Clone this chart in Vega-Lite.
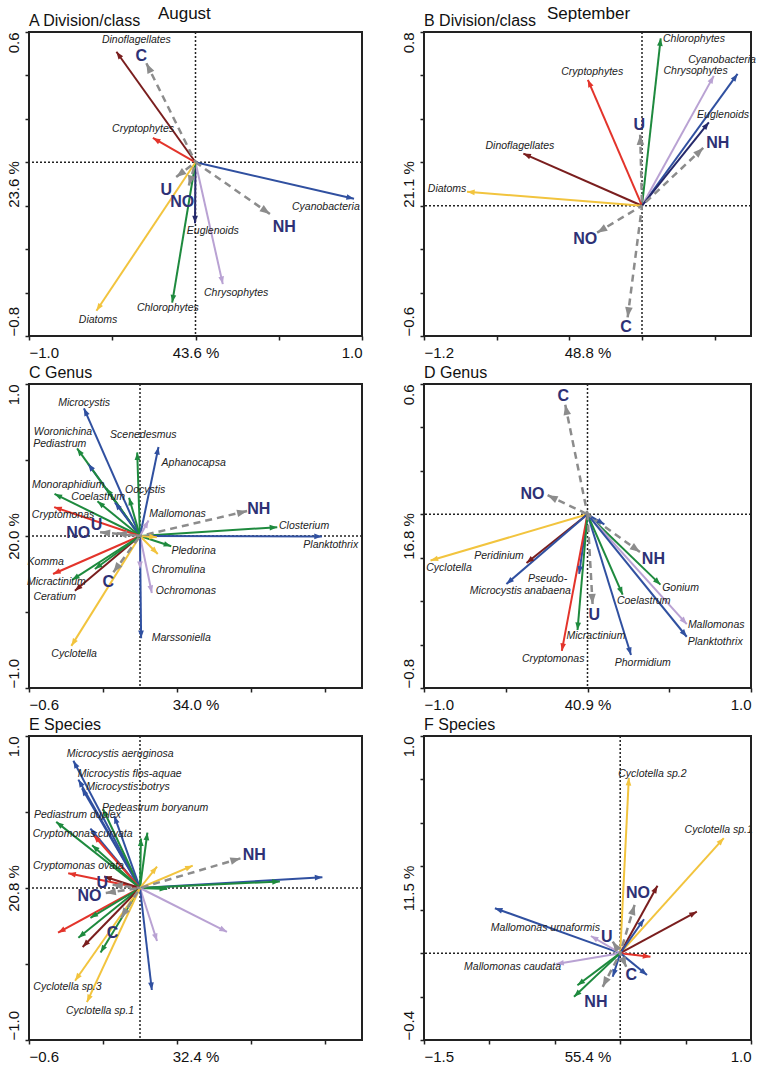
{
"$schema": "https://vega.github.io/schema/vega-lite/v6.json",
"padding": {"left": 5, "top": 5, "right": 5, "bottom": 2},
"config": {"font": "Liberation Sans", "view": {"stroke": "#222", "strokeWidth": 2},
 "axis": {"domain": false, "grid": false, "tickColor": "#222", "tickSize": 4, "tickWidth": 1.5, "labelFontSize": 15, "labelColor": "#111", "titleFontSize": 15, "titleFontWeight": "normal", "titleColor": "#111", "labelPadding": 5},
 "title": {"color": "#111", "fontWeight": "normal"}},
"spacing": 36,
"hconcat": [
{"title": {"text": "August", "fontSize": 17, "anchor": "middle", "offset": -11}, "bounds": "flush", "spacing": 48,
 "vconcat": [
 {"width": 333, "height": 304, "title": {"text": "A  Division/class", "anchor": "start", "frame": "group", "fontSize": 16, "offset": 2},
  "data": {"name": "A"},
  "layer": [
   {"data": {"values": [{}]}, "mark": {"type": "rule", "color": "#222", "strokeDash": [2, 2], "strokeWidth": 1.5}, "encoding": {"x": {"datum": 0, "type": "quantitative"}}},
   {"data": {"values": [{}]}, "mark": {"type": "rule", "color": "#222", "strokeDash": [2, 2], "strokeWidth": 1.5}, "encoding": {"y": {"datum": 0, "type": "quantitative"}}},
   {"transform": [{"filter": "datum.t == 'sp'"}], "mark": {"type": "rule", "strokeWidth": 2},
    "encoding": {
     "x": {"field": "x", "type": "quantitative", "scale": {"domain": [-1, 1], "nice": false, "zero": false},
      "axis": {"values": [-1, -0.5, 0, 0.5, 1], "format": ".1f", "labelExpr": "abs(datum.value) > 0.99 ? datum.label : ''", "labelFlush": true, "title": "43.6 %", "titleY": 9, "titleBaseline": "top"}},
     "y": {"field": "y", "type": "quantitative", "scale": {"domain": [-0.8, 0.6], "nice": false, "zero": false},
      "axis": {"values": [-0.8, -0.6, -0.4, -0.2, 0, 0.2, 0.4, 0.6], "format": ".1f", "labelExpr": "datum.value < -0.79 || datum.value > 0.59 ? datum.label : ''", "labelAngle": -90, "labelAlign": {"condition": {"test": "datum.value > 0", "value": "right"}, "value": "left"}, "labelBaseline": "bottom", "labelFlush": false, "labelPadding": 4, "title": "23.6 %", "titleX": -8, "titleBaseline": "bottom"}},
     "x2": {"datum": 0}, "y2": {"datum": 0},
     "color": {"field": "g", "type": "nominal", "legend": null, "scale": {"domain": ["Cyanobacteria","Dinoflagellates","Cryptophytes","Diatoms","Chlorophytes","Chrysophytes","Euglenoids"], "range": ["#3050A0","#7A1E1E","#E3342B","#F2C43E","#1E8A3E","#B9A2D3","#25296B"]}}}},
   {"transform": [{"filter": "datum.t == 'env'"}], "mark": {"type": "rule", "strokeWidth": 2.5, "color": "#8C8C8C", "strokeDash": [7, 5]},
    "encoding": {"x": {"field": "x", "type": "quantitative"}, "y": {"field": "y", "type": "quantitative"}, "x2": {"datum": 0}, "y2": {"datum": 0}}},
   {"transform": [{"filter": "datum.t == 'sp'"}], "mark": {"type": "point", "shape": "M0,0L-0.6,1.6L0.6,1.6Z", "filled": true, "opacity": 1, "size": 90, "strokeWidth": 0, "angle": {"expr": "atan2(datum.x*166.5, datum.y*217.14)*180/PI"}},
    "encoding": {"x": {"field": "x", "type": "quantitative"}, "y": {"field": "y", "type": "quantitative"}, "color": {"field": "g", "type": "nominal", "legend": null}}},
   {"transform": [{"filter": "datum.t == 'env'"}], "mark": {"type": "point", "shape": "M0,0L-0.6,1.6L0.6,1.6Z", "filled": true, "opacity": 1, "size": 160, "strokeWidth": 0, "color": "#8C8C8C", "angle": {"expr": "atan2(datum.x*166.5, datum.y*217.14)*180/PI"}},
    "encoding": {"x": {"field": "x", "type": "quantitative"}, "y": {"field": "y", "type": "quantitative"}}},
   {"transform": [{"filter": "datum.t == 'sp' && datum.n != ''"}], "mark": {"type": "text", "fontStyle": "italic", "fontSize": 10.5, "color": "#222", "lineBreak": "\n"},
    "encoding": {"x": {"field": "lx", "type": "quantitative"}, "y": {"field": "ly", "type": "quantitative"}, "text": {"field": "n"}}},
   {"transform": [{"filter": "datum.t == 'env'"}], "mark": {"type": "text", "fontWeight": "bold", "fontSize": 16, "color": "#2E3175"},
    "encoding": {"x": {"field": "lx", "type": "quantitative"}, "y": {"field": "ly", "type": "quantitative"}, "text": {"field": "n"}}}
  ]},
 {"width": 333, "height": 304, "title": {"text": "C  Genus", "anchor": "start", "frame": "group", "fontSize": 16, "offset": 2},
  "data": {"name": "C"},
  "layer": [
   {"data": {"values": [{}]}, "mark": {"type": "rule", "color": "#222", "strokeDash": [2, 2], "strokeWidth": 1.5}, "encoding": {"x": {"datum": 0, "type": "quantitative"}}},
   {"data": {"values": [{}]}, "mark": {"type": "rule", "color": "#222", "strokeDash": [2, 2], "strokeWidth": 1.5}, "encoding": {"y": {"datum": 0, "type": "quantitative"}}},
   {"transform": [{"filter": "datum.t == 'sp'"}], "mark": {"type": "rule", "strokeWidth": 2},
    "encoding": {
     "x": {"field": "x", "type": "quantitative", "scale": {"domain": [-0.6, 1.2], "nice": false, "zero": false},
      "axis": {"values": [-0.6, -0.4, -0.2, 0, 0.2, 0.4, 0.6, 0.8, 1, 1.2], "format": ".1f", "labelExpr": "datum.value < -0.59 || datum.value > 1.19 ? datum.label : ''", "labelFlush": true, "title": "34.0 %", "titleY": 9, "titleBaseline": "top"}},
     "y": {"field": "y", "type": "quantitative", "scale": {"domain": [-1, 1], "nice": false, "zero": false},
      "axis": {"values": [-1, -0.5, 0, 0.5, 1], "format": ".1f", "labelExpr": "abs(datum.value) > 0.99 ? datum.label : ''", "labelAngle": -90, "labelAlign": {"condition": {"test": "datum.value > 0", "value": "right"}, "value": "left"}, "labelBaseline": "bottom", "labelFlush": false, "labelPadding": 4, "title": "20.0 %", "titleX": -8, "titleBaseline": "bottom"}},
     "x2": {"datum": 0}, "y2": {"datum": 0},
     "color": {"field": "g", "type": "nominal", "legend": null, "scale": {"domain": ["Cyanobacteria","Dinoflagellates","Cryptophytes","Diatoms","Chlorophytes","Chrysophytes","Euglenoids"], "range": ["#3050A0","#7A1E1E","#E3342B","#F2C43E","#1E8A3E","#B9A2D3","#25296B"]}}}},
   {"transform": [{"filter": "datum.t == 'env'"}], "mark": {"type": "rule", "strokeWidth": 2.5, "color": "#8C8C8C", "strokeDash": [7, 5]},
    "encoding": {"x": {"field": "x", "type": "quantitative"}, "y": {"field": "y", "type": "quantitative"}, "x2": {"datum": 0}, "y2": {"datum": 0}}},
   {"transform": [{"filter": "datum.t == 'sp'"}], "mark": {"type": "point", "shape": "M0,0L-0.6,1.6L0.6,1.6Z", "filled": true, "opacity": 1, "size": 90, "strokeWidth": 0, "angle": {"expr": "atan2(datum.x*185, datum.y*152)*180/PI"}},
    "encoding": {"x": {"field": "x", "type": "quantitative"}, "y": {"field": "y", "type": "quantitative"}, "color": {"field": "g", "type": "nominal", "legend": null}}},
   {"transform": [{"filter": "datum.t == 'env'"}], "mark": {"type": "point", "shape": "M0,0L-0.6,1.6L0.6,1.6Z", "filled": true, "opacity": 1, "size": 160, "strokeWidth": 0, "color": "#8C8C8C", "angle": {"expr": "atan2(datum.x*185, datum.y*152)*180/PI"}},
    "encoding": {"x": {"field": "x", "type": "quantitative"}, "y": {"field": "y", "type": "quantitative"}}},
   {"transform": [{"filter": "datum.t == 'sp' && datum.n != ''"}], "mark": {"type": "text", "fontStyle": "italic", "fontSize": 10.5, "color": "#222", "lineBreak": "\n"},
    "encoding": {"x": {"field": "lx", "type": "quantitative"}, "y": {"field": "ly", "type": "quantitative"}, "text": {"field": "n"}}},
   {"transform": [{"filter": "datum.t == 'env'"}], "mark": {"type": "text", "fontWeight": "bold", "fontSize": 16, "color": "#2E3175"},
    "encoding": {"x": {"field": "lx", "type": "quantitative"}, "y": {"field": "ly", "type": "quantitative"}, "text": {"field": "n"}}}
  ]},
 {"width": 333, "height": 304, "title": {"text": "E  Species", "anchor": "start", "frame": "group", "fontSize": 16, "offset": 2},
  "data": {"name": "E"},
  "layer": [
   {"data": {"values": [{}]}, "mark": {"type": "rule", "color": "#222", "strokeDash": [2, 2], "strokeWidth": 1.5}, "encoding": {"x": {"datum": 0, "type": "quantitative"}}},
   {"data": {"values": [{}]}, "mark": {"type": "rule", "color": "#222", "strokeDash": [2, 2], "strokeWidth": 1.5}, "encoding": {"y": {"datum": 0, "type": "quantitative"}}},
   {"transform": [{"filter": "datum.t == 'sp'"}], "mark": {"type": "rule", "strokeWidth": 2},
    "encoding": {
     "x": {"field": "x", "type": "quantitative", "scale": {"domain": [-0.6, 1.2], "nice": false, "zero": false},
      "axis": {"values": [-0.6, -0.4, -0.2, 0, 0.2, 0.4, 0.6, 0.8, 1, 1.2], "format": ".1f", "labelExpr": "datum.value < -0.59 || datum.value > 1.19 ? datum.label : ''", "labelFlush": true, "title": "32.4 %", "titleY": 9, "titleBaseline": "top"}},
     "y": {"field": "y", "type": "quantitative", "scale": {"domain": [-1, 1], "nice": false, "zero": false},
      "axis": {"values": [-1, -0.5, 0, 0.5, 1], "format": ".1f", "labelExpr": "abs(datum.value) > 0.99 ? datum.label : ''", "labelAngle": -90, "labelAlign": {"condition": {"test": "datum.value > 0", "value": "right"}, "value": "left"}, "labelBaseline": "bottom", "labelFlush": false, "labelPadding": 4, "title": "20.8 %", "titleX": -8, "titleBaseline": "bottom"}},
     "x2": {"datum": 0}, "y2": {"datum": 0},
     "color": {"field": "g", "type": "nominal", "legend": null, "scale": {"domain": ["Cyanobacteria","Dinoflagellates","Cryptophytes","Diatoms","Chlorophytes","Chrysophytes","Euglenoids"], "range": ["#3050A0","#7A1E1E","#E3342B","#F2C43E","#1E8A3E","#B9A2D3","#25296B"]}}}},
   {"transform": [{"filter": "datum.t == 'env'"}], "mark": {"type": "rule", "strokeWidth": 2.5, "color": "#8C8C8C", "strokeDash": [7, 5]},
    "encoding": {"x": {"field": "x", "type": "quantitative"}, "y": {"field": "y", "type": "quantitative"}, "x2": {"datum": 0}, "y2": {"datum": 0}}},
   {"transform": [{"filter": "datum.t == 'sp'"}], "mark": {"type": "point", "shape": "M0,0L-0.6,1.6L0.6,1.6Z", "filled": true, "opacity": 1, "size": 90, "strokeWidth": 0, "angle": {"expr": "atan2(datum.x*185, datum.y*152)*180/PI"}},
    "encoding": {"x": {"field": "x", "type": "quantitative"}, "y": {"field": "y", "type": "quantitative"}, "color": {"field": "g", "type": "nominal", "legend": null}}},
   {"transform": [{"filter": "datum.t == 'env'"}], "mark": {"type": "point", "shape": "M0,0L-0.6,1.6L0.6,1.6Z", "filled": true, "opacity": 1, "size": 160, "strokeWidth": 0, "color": "#8C8C8C", "angle": {"expr": "atan2(datum.x*185, datum.y*152)*180/PI"}},
    "encoding": {"x": {"field": "x", "type": "quantitative"}, "y": {"field": "y", "type": "quantitative"}}},
   {"transform": [{"filter": "datum.t == 'sp' && datum.n != ''"}], "mark": {"type": "text", "fontStyle": "italic", "fontSize": 10.5, "color": "#222", "lineBreak": "\n"},
    "encoding": {"x": {"field": "lx", "type": "quantitative"}, "y": {"field": "ly", "type": "quantitative"}, "text": {"field": "n"}}},
   {"transform": [{"filter": "datum.t == 'env'"}], "mark": {"type": "text", "fontWeight": "bold", "fontSize": 16, "color": "#2E3175"},
    "encoding": {"x": {"field": "lx", "type": "quantitative"}, "y": {"field": "ly", "type": "quantitative"}, "text": {"field": "n"}}}
  ]}
 ]},
{"title": {"text": "September", "fontSize": 17, "anchor": "middle", "offset": -11, "dx": 10}, "bounds": "flush", "spacing": 48,
 "vconcat": [
 {"width": 327, "height": 304, "title": {"text": "B  Division/class", "anchor": "start", "frame": "group", "fontSize": 16, "offset": 2},
  "data": {"name": "B"},
  "layer": [
   {"data": {"values": [{}]}, "mark": {"type": "rule", "color": "#222", "strokeDash": [2, 2], "strokeWidth": 1.5}, "encoding": {"x": {"datum": 0, "type": "quantitative"}}},
   {"data": {"values": [{}]}, "mark": {"type": "rule", "color": "#222", "strokeDash": [2, 2], "strokeWidth": 1.5}, "encoding": {"y": {"datum": 0, "type": "quantitative"}}},
   {"transform": [{"filter": "datum.t == 'sp'"}], "mark": {"type": "rule", "strokeWidth": 2},
    "encoding": {
     "x": {"field": "x", "type": "quantitative", "scale": {"domain": [-1.2, 0.6], "nice": false, "zero": false},
      "axis": {"values": [-1.2, -1, -0.8, -0.6, -0.4, -0.2, 0, 0.2, 0.4, 0.6], "format": ".1f", "labelExpr": "datum.value < -1.19 || datum.value > 0.59 ? datum.label : ''", "labelFlush": true, "title": "48.8 %", "titleY": 9, "titleBaseline": "top"}},
     "y": {"field": "y", "type": "quantitative", "scale": {"domain": [-0.6, 0.8], "nice": false, "zero": false},
      "axis": {"values": [-0.6, -0.4, -0.2, 0, 0.2, 0.4, 0.6, 0.8], "format": ".1f", "labelExpr": "datum.value < -0.59 || datum.value > 0.79 ? datum.label : ''", "labelAngle": -90, "labelAlign": {"condition": {"test": "datum.value > 0", "value": "right"}, "value": "left"}, "labelBaseline": "bottom", "labelFlush": false, "labelPadding": 4, "title": "21.1 %", "titleX": -8, "titleBaseline": "bottom"}},
     "x2": {"datum": 0}, "y2": {"datum": 0},
     "color": {"field": "g", "type": "nominal", "legend": null, "scale": {"domain": ["Cyanobacteria","Dinoflagellates","Cryptophytes","Diatoms","Chlorophytes","Chrysophytes","Euglenoids"], "range": ["#3050A0","#7A1E1E","#E3342B","#F2C43E","#1E8A3E","#B9A2D3","#25296B"]}}}},
   {"transform": [{"filter": "datum.t == 'env'"}], "mark": {"type": "rule", "strokeWidth": 2.5, "color": "#8C8C8C", "strokeDash": [7, 5]},
    "encoding": {"x": {"field": "x", "type": "quantitative"}, "y": {"field": "y", "type": "quantitative"}, "x2": {"datum": 0}, "y2": {"datum": 0}}},
   {"transform": [{"filter": "datum.t == 'sp'"}], "mark": {"type": "point", "shape": "M0,0L-0.6,1.6L0.6,1.6Z", "filled": true, "opacity": 1, "size": 90, "strokeWidth": 0, "angle": {"expr": "atan2(datum.x*181.67, datum.y*217.14)*180/PI"}},
    "encoding": {"x": {"field": "x", "type": "quantitative"}, "y": {"field": "y", "type": "quantitative"}, "color": {"field": "g", "type": "nominal", "legend": null}}},
   {"transform": [{"filter": "datum.t == 'env'"}], "mark": {"type": "point", "shape": "M0,0L-0.6,1.6L0.6,1.6Z", "filled": true, "opacity": 1, "size": 160, "strokeWidth": 0, "color": "#8C8C8C", "angle": {"expr": "atan2(datum.x*181.67, datum.y*217.14)*180/PI"}},
    "encoding": {"x": {"field": "x", "type": "quantitative"}, "y": {"field": "y", "type": "quantitative"}}},
   {"transform": [{"filter": "datum.t == 'sp' && datum.n != ''"}], "mark": {"type": "text", "fontStyle": "italic", "fontSize": 10.5, "color": "#222", "lineBreak": "\n"},
    "encoding": {"x": {"field": "lx", "type": "quantitative"}, "y": {"field": "ly", "type": "quantitative"}, "text": {"field": "n"}}},
   {"transform": [{"filter": "datum.t == 'env'"}], "mark": {"type": "text", "fontWeight": "bold", "fontSize": 16, "color": "#2E3175"},
    "encoding": {"x": {"field": "lx", "type": "quantitative"}, "y": {"field": "ly", "type": "quantitative"}, "text": {"field": "n"}}}
  ]},
 {"width": 327, "height": 304, "title": {"text": "D  Genus", "anchor": "start", "frame": "group", "fontSize": 16, "offset": 2},
  "data": {"name": "D"},
  "layer": [
   {"data": {"values": [{}]}, "mark": {"type": "rule", "color": "#222", "strokeDash": [2, 2], "strokeWidth": 1.5}, "encoding": {"x": {"datum": 0, "type": "quantitative"}}},
   {"data": {"values": [{}]}, "mark": {"type": "rule", "color": "#222", "strokeDash": [2, 2], "strokeWidth": 1.5}, "encoding": {"y": {"datum": 0, "type": "quantitative"}}},
   {"transform": [{"filter": "datum.t == 'sp'"}], "mark": {"type": "rule", "strokeWidth": 2},
    "encoding": {
     "x": {"field": "x", "type": "quantitative", "scale": {"domain": [-1, 1], "nice": false, "zero": false},
      "axis": {"values": [-1, -0.5, 0, 0.5, 1], "format": ".1f", "labelExpr": "abs(datum.value) > 0.99 ? datum.label : ''", "labelFlush": true, "title": "40.9 %", "titleY": 9, "titleBaseline": "top"}},
     "y": {"field": "y", "type": "quantitative", "scale": {"domain": [-0.8, 0.6], "nice": false, "zero": false},
      "axis": {"values": [-0.8, -0.6, -0.4, -0.2, 0, 0.2, 0.4, 0.6], "format": ".1f", "labelExpr": "datum.value < -0.79 || datum.value > 0.59 ? datum.label : ''", "labelAngle": -90, "labelAlign": {"condition": {"test": "datum.value > 0", "value": "right"}, "value": "left"}, "labelBaseline": "bottom", "labelFlush": false, "labelPadding": 4, "title": "16.8 %", "titleX": -8, "titleBaseline": "bottom"}},
     "x2": {"datum": 0}, "y2": {"datum": 0},
     "color": {"field": "g", "type": "nominal", "legend": null, "scale": {"domain": ["Cyanobacteria","Dinoflagellates","Cryptophytes","Diatoms","Chlorophytes","Chrysophytes","Euglenoids"], "range": ["#3050A0","#7A1E1E","#E3342B","#F2C43E","#1E8A3E","#B9A2D3","#25296B"]}}}},
   {"transform": [{"filter": "datum.t == 'env'"}], "mark": {"type": "rule", "strokeWidth": 2.5, "color": "#8C8C8C", "strokeDash": [7, 5]},
    "encoding": {"x": {"field": "x", "type": "quantitative"}, "y": {"field": "y", "type": "quantitative"}, "x2": {"datum": 0}, "y2": {"datum": 0}}},
   {"transform": [{"filter": "datum.t == 'sp'"}], "mark": {"type": "point", "shape": "M0,0L-0.6,1.6L0.6,1.6Z", "filled": true, "opacity": 1, "size": 90, "strokeWidth": 0, "angle": {"expr": "atan2(datum.x*163.5, datum.y*217.14)*180/PI"}},
    "encoding": {"x": {"field": "x", "type": "quantitative"}, "y": {"field": "y", "type": "quantitative"}, "color": {"field": "g", "type": "nominal", "legend": null}}},
   {"transform": [{"filter": "datum.t == 'env'"}], "mark": {"type": "point", "shape": "M0,0L-0.6,1.6L0.6,1.6Z", "filled": true, "opacity": 1, "size": 160, "strokeWidth": 0, "color": "#8C8C8C", "angle": {"expr": "atan2(datum.x*163.5, datum.y*217.14)*180/PI"}},
    "encoding": {"x": {"field": "x", "type": "quantitative"}, "y": {"field": "y", "type": "quantitative"}}},
   {"transform": [{"filter": "datum.t == 'sp' && datum.n != ''"}], "mark": {"type": "text", "fontStyle": "italic", "fontSize": 10.5, "color": "#222", "lineBreak": "\n"},
    "encoding": {"x": {"field": "lx", "type": "quantitative"}, "y": {"field": "ly", "type": "quantitative"}, "text": {"field": "n"}}},
   {"transform": [{"filter": "datum.t == 'env'"}], "mark": {"type": "text", "fontWeight": "bold", "fontSize": 16, "color": "#2E3175"},
    "encoding": {"x": {"field": "lx", "type": "quantitative"}, "y": {"field": "ly", "type": "quantitative"}, "text": {"field": "n"}}}
  ]},
 {"width": 327, "height": 304, "title": {"text": "F  Species", "anchor": "start", "frame": "group", "fontSize": 16, "offset": 2},
  "data": {"name": "F"},
  "layer": [
   {"data": {"values": [{}]}, "mark": {"type": "rule", "color": "#222", "strokeDash": [2, 2], "strokeWidth": 1.5}, "encoding": {"x": {"datum": 0, "type": "quantitative"}}},
   {"data": {"values": [{}]}, "mark": {"type": "rule", "color": "#222", "strokeDash": [2, 2], "strokeWidth": 1.5}, "encoding": {"y": {"datum": 0, "type": "quantitative"}}},
   {"transform": [{"filter": "datum.t == 'sp'"}], "mark": {"type": "rule", "strokeWidth": 2},
    "encoding": {
     "x": {"field": "x", "type": "quantitative", "scale": {"domain": [-1.5, 1], "nice": false, "zero": false},
      "axis": {"values": [-1.5, -1, -0.5, 0, 0.5, 1], "format": ".1f", "labelExpr": "datum.value < -1.49 || datum.value > 0.99 ? datum.label : ''", "labelFlush": true, "title": "55.4 %", "titleY": 9, "titleBaseline": "top"}},
     "y": {"field": "y", "type": "quantitative", "scale": {"domain": [-0.4, 1], "nice": false, "zero": false},
      "axis": {"values": [-0.4, -0.2, 0, 0.2, 0.4, 0.6, 0.8, 1], "format": ".1f", "labelExpr": "datum.value < -0.39 || datum.value > 0.99 ? datum.label : ''", "labelAngle": -90, "labelAlign": {"condition": {"test": "datum.value > 0", "value": "right"}, "value": "left"}, "labelBaseline": "bottom", "labelFlush": false, "labelPadding": 4, "title": "11.5 %", "titleX": -8, "titleBaseline": "bottom"}},
     "x2": {"datum": 0}, "y2": {"datum": 0},
     "color": {"field": "g", "type": "nominal", "legend": null, "scale": {"domain": ["Cyanobacteria","Dinoflagellates","Cryptophytes","Diatoms","Chlorophytes","Chrysophytes","Euglenoids"], "range": ["#3050A0","#7A1E1E","#E3342B","#F2C43E","#1E8A3E","#B9A2D3","#25296B"]}}}},
   {"transform": [{"filter": "datum.t == 'env'"}], "mark": {"type": "rule", "strokeWidth": 2.5, "color": "#8C8C8C", "strokeDash": [7, 5]},
    "encoding": {"x": {"field": "x", "type": "quantitative"}, "y": {"field": "y", "type": "quantitative"}, "x2": {"datum": 0}, "y2": {"datum": 0}}},
   {"transform": [{"filter": "datum.t == 'sp'"}], "mark": {"type": "point", "shape": "M0,0L-0.6,1.6L0.6,1.6Z", "filled": true, "opacity": 1, "size": 90, "strokeWidth": 0, "angle": {"expr": "atan2(datum.x*130.8, datum.y*217.14)*180/PI"}},
    "encoding": {"x": {"field": "x", "type": "quantitative"}, "y": {"field": "y", "type": "quantitative"}, "color": {"field": "g", "type": "nominal", "legend": null}}},
   {"transform": [{"filter": "datum.t == 'env'"}], "mark": {"type": "point", "shape": "M0,0L-0.6,1.6L0.6,1.6Z", "filled": true, "opacity": 1, "size": 160, "strokeWidth": 0, "color": "#8C8C8C", "angle": {"expr": "atan2(datum.x*130.8, datum.y*217.14)*180/PI"}},
    "encoding": {"x": {"field": "x", "type": "quantitative"}, "y": {"field": "y", "type": "quantitative"}}},
   {"transform": [{"filter": "datum.t == 'sp' && datum.n != ''"}], "mark": {"type": "text", "fontStyle": "italic", "fontSize": 10.5, "color": "#222", "lineBreak": "\n"},
    "encoding": {"x": {"field": "lx", "type": "quantitative"}, "y": {"field": "ly", "type": "quantitative"}, "text": {"field": "n"}}},
   {"transform": [{"filter": "datum.t == 'env'"}], "mark": {"type": "text", "fontWeight": "bold", "fontSize": 16, "color": "#2E3175"},
    "encoding": {"x": {"field": "lx", "type": "quantitative"}, "y": {"field": "ly", "type": "quantitative"}, "text": {"field": "n"}}}
  ]}
 ]}
],
"datasets": {
"A": [
{"t":"sp","g":"Dinoflagellates","n":"Dinoflagellates","x":-0.475,"y":0.509,"lx":-0.355,"ly":0.562},
{"t":"sp","g":"Cryptophytes","n":"Cryptophytes","x":-0.256,"y":0.112,"lx":-0.315,"ly":0.155},
{"t":"sp","g":"Cyanobacteria","n":"Cyanobacteria","x":0.952,"y":-0.168,"lx":0.783,"ly":-0.207},
{"t":"sp","g":"Euglenoids","n":"Euglenoids","x":-0.003,"y":-0.281,"lx":0.104,"ly":-0.315},
{"t":"sp","g":"Chrysophytes","n":"Chrysophytes","x":0.164,"y":-0.561,"lx":0.244,"ly":-0.600},
{"t":"sp","g":"Chlorophytes","n":"Chlorophytes","x":-0.140,"y":-0.646,"lx":-0.166,"ly":-0.672},
{"t":"sp","g":"Diatoms","n":"Diatoms","x":-0.595,"y":-0.684,"lx":-0.585,"ly":-0.727},
{"t":"env","g":"env","n":"C","x":-0.295,"y":0.456,"lx":-0.325,"ly":0.488},
{"t":"env","g":"env","n":"NH","x":0.447,"y":-0.238,"lx":0.533,"ly":-0.296},
{"t":"env","g":"env","n":"U","x":-0.116,"y":-0.068,"lx":-0.176,"ly":-0.127},
{"t":"env","g":"env","n":"NO","x":-0.040,"y":-0.107,"lx":-0.080,"ly":-0.181}
],
"B": [
{"t":"sp","g":"Chlorophytes","n":"Chlorophytes","x":0.103,"y":0.771,"lx":0.286,"ly":0.766},
{"t":"sp","g":"Cyanobacteria","n":"Cyanobacteria","x":0.526,"y":0.607,"lx":0.441,"ly":0.672},
{"t":"sp","g":"Chrysophytes","n":"Chrysophytes","x":0.395,"y":0.598,"lx":0.295,"ly":0.621},
{"t":"sp","g":"Cryptophytes","n":"Cryptophytes","x":-0.298,"y":0.580,"lx":-0.274,"ly":0.618},
{"t":"sp","g":"Euglenoids","n":"Euglenoids","x":0.368,"y":0.384,"lx":0.446,"ly":0.416},
{"t":"sp","g":"Dinoflagellates","n":"Dinoflagellates","x":-0.653,"y":0.240,"lx":-0.672,"ly":0.274},
{"t":"sp","g":"Diatoms","n":"Diatoms","x":-0.963,"y":0.064,"lx":-1.073,"ly":0.079},
{"t":"env","g":"env","n":"U","x":-0.010,"y":0.327,"lx":-0.015,"ly":0.373},
{"t":"env","g":"env","n":"NH","x":0.337,"y":0.266,"lx":0.417,"ly":0.289},
{"t":"env","g":"env","n":"NO","x":-0.247,"y":-0.124,"lx":-0.312,"ly":-0.155},
{"t":"env","g":"env","n":"C","x":-0.079,"y":-0.514,"lx":-0.088,"ly":-0.560}
],
"C": [
{"t":"sp","g":"Cyanobacteria","n":"Microcystis","x":-0.303,"y":0.840,"lx":-0.302,"ly":0.877},
{"t":"sp","g":"Cyanobacteria","n":"Woronichina","x":-0.280,"y":0.475,"lx":-0.416,"ly":0.685},
{"t":"sp","g":"Chlorophytes","n":"Pediastrum","x":-0.340,"y":0.576,"lx":-0.434,"ly":0.602},
{"t":"sp","g":"Chlorophytes","n":"Scenedesmus","x":-0.015,"y":0.550,"lx":0.018,"ly":0.663},
{"t":"sp","g":"Cyanobacteria","n":"Aphanocapsa","x":0.100,"y":0.586,"lx":0.290,"ly":0.483},
{"t":"sp","g":"Chlorophytes","n":"Monoraphidium","x":-0.462,"y":0.277,"lx":-0.388,"ly":0.338},
{"t":"sp","g":"Chlorophytes","n":"","x":-0.182,"y":0.314},
{"t":"sp","g":"Cyanobacteria","n":"","x":-0.135,"y":0.220},
{"t":"sp","g":"Chlorophytes","n":"Coelastrum","x":-0.230,"y":0.228,"lx":-0.226,"ly":0.256},
{"t":"sp","g":"Chlorophytes","n":"Oocystis","x":-0.059,"y":0.252,"lx":0.028,"ly":0.300},
{"t":"sp","g":"Cryptophytes","n":"Cryptomonas","x":-0.464,"y":0.190,"lx":-0.416,"ly":0.135},
{"t":"sp","g":"Chrysophytes","n":"Mallomonas","x":0.046,"y":0.102,"lx":0.203,"ly":0.142},
{"t":"sp","g":"Chlorophytes","n":"Closterium","x":0.742,"y":0.058,"lx":0.887,"ly":0.065},
{"t":"sp","g":"Cyanobacteria","n":"Planktothrix","x":0.983,"y":-0.003,"lx":1.031,"ly":-0.056},
{"t":"sp","g":"Chlorophytes","n":"Pledorina","x":0.169,"y":-0.067,"lx":0.290,"ly":-0.100},
{"t":"sp","g":"Diatoms","n":"","x":0.096,"y":-0.118},
{"t":"sp","g":"Diatoms","n":"","x":0.091,"y":-0.008},
{"t":"sp","g":"Chrysophytes","n":"Chromulina","x":0.0,"y":-0.217,"lx":0.208,"ly":-0.221},
{"t":"sp","g":"Chrysophytes","n":"Ochromonas","x":0.064,"y":-0.375,"lx":0.248,"ly":-0.360},
{"t":"sp","g":"Cyanobacteria","n":"Marssoniella","x":0.006,"y":-0.672,"lx":0.223,"ly":-0.668},
{"t":"sp","g":"Diatoms","n":"Cyclotella","x":-0.371,"y":-0.723,"lx":-0.356,"ly":-0.774},
{"t":"sp","g":"Cryptophytes","n":"Komma","x":-0.470,"y":-0.250,"lx":-0.510,"ly":-0.168},
{"t":"sp","g":"Chlorophytes","n":"Micractinium","x":-0.367,"y":-0.289,"lx":-0.452,"ly":-0.302},
{"t":"sp","g":"Dinoflagellates","n":"Ceratium","x":-0.352,"y":-0.360,"lx":-0.461,"ly":-0.399},
{"t":"sp","g":"Chlorophytes","n":"","x":-0.244,"y":-0.217},
{"t":"env","g":"env","n":"NH","x":0.579,"y":0.164,"lx":0.642,"ly":0.180},
{"t":"env","g":"env","n":"U","x":-0.126,"y":0.018,"lx":-0.235,"ly":0.074},
{"t":"env","g":"env","n":"NO","x":-0.216,"y":0.025,"lx":-0.334,"ly":0.018},
{"t":"env","g":"env","n":"C","x":-0.144,"y":-0.239,"lx":-0.171,"ly":-0.305}
],
"D": [
{"t":"sp","g":"Diatoms","n":"Cyclotella","x":-0.960,"y":-0.213,"lx":-0.847,"ly":-0.248},
{"t":"sp","g":"Dinoflagellates","n":"Peridinium","x":-0.373,"y":-0.224,"lx":-0.541,"ly":-0.194},
{"t":"sp","g":"Cyanobacteria","n":"Microcystis","x":-0.496,"y":-0.321,"lx":-0.561,"ly":-0.352},
{"t":"sp","g":"Cyanobacteria","n":"Pseudo-\nanabaena","x":-0.051,"y":-0.274,"lx":-0.244,"ly":-0.298},
{"t":"sp","g":"Cryptophytes","n":"Cryptomonas","x":-0.157,"y":-0.629,"lx":-0.210,"ly":-0.668},
{"t":"sp","g":"Chlorophytes","n":"Micractinium","x":-0.061,"y":-0.533,"lx":0.052,"ly":-0.560},
{"t":"sp","g":"Cyanobacteria","n":"Phormidium","x":0.266,"y":-0.648,"lx":0.338,"ly":-0.683},
{"t":"sp","g":"Chlorophytes","n":"Coelastrum","x":0.215,"y":-0.370,"lx":0.344,"ly":-0.398},
{"t":"sp","g":"Chlorophytes","n":"Gonium","x":0.446,"y":-0.324,"lx":0.569,"ly":-0.339},
{"t":"sp","g":"Chrysophytes","n":"Mallomonas","x":0.607,"y":-0.506,"lx":0.787,"ly":-0.509},
{"t":"sp","g":"Cyanobacteria","n":"Planktothrix","x":0.607,"y":-0.564,"lx":0.781,"ly":-0.586},
{"t":"sp","g":"Cyanobacteria","n":"","x":0.103,"y":-0.046},
{"t":"env","g":"env","n":"C","x":-0.136,"y":0.504,"lx":-0.148,"ly":0.543},
{"t":"env","g":"env","n":"NO","x":-0.244,"y":0.088,"lx":-0.336,"ly":0.093},
{"t":"env","g":"env","n":"NH","x":0.321,"y":-0.174,"lx":0.403,"ly":-0.208},
{"t":"env","g":"env","n":"U","x":0.031,"y":-0.413,"lx":0.041,"ly":-0.463}
],
"E": [
{"t":"sp","g":"Cyanobacteria","n":"Microcystis aeruginosa","x":-0.360,"y":0.837,"lx":-0.107,"ly":0.880},
{"t":"sp","g":"Cyanobacteria","n":"Microcystis flos-aquae","x":-0.333,"y":0.713,"lx":-0.056,"ly":0.750},
{"t":"sp","g":"Cyanobacteria","n":"Microcystis botrys","x":-0.314,"y":0.657,"lx":-0.065,"ly":0.663},
{"t":"sp","g":"Chlorophytes","n":"Pedeastrum boryanum","x":-0.200,"y":0.520,"lx":0.082,"ly":0.528},
{"t":"sp","g":"Cyanobacteria","n":"","x":-0.139,"y":0.474},
{"t":"sp","g":"Chlorophytes","n":"Pediastrum duplex","x":-0.453,"y":0.435,"lx":-0.338,"ly":0.478},
{"t":"sp","g":"Cyanobacteria","n":"","x":-0.268,"y":0.391},
{"t":"sp","g":"Cryptophytes","n":"Cryptomonas curvata","x":-0.250,"y":0.347,"lx":-0.310,"ly":0.354},
{"t":"sp","g":"Chlorophytes","n":"","x":-0.259,"y":0.282},
{"t":"sp","g":"Chlorophytes","n":"","x":0.005,"y":0.326},
{"t":"sp","g":"Chlorophytes","n":"","x":0.040,"y":0.365},
{"t":"sp","g":"Cryptophytes","n":"Cryptomonas ovata","x":-0.388,"y":0.097,"lx":-0.333,"ly":0.147},
{"t":"sp","g":"Dinoflagellates","n":"","x":-0.194,"y":0.076},
{"t":"sp","g":"Diatoms","n":"","x":0.092,"y":0.141},
{"t":"sp","g":"Diatoms","n":"","x":0.285,"y":0.147},
{"t":"sp","g":"Cyanobacteria","n":"","x":0.986,"y":0.071},
{"t":"sp","g":"Chlorophytes","n":"","x":0.756,"y":0.043},
{"t":"sp","g":"Chlorophytes","n":"","x":0.147,"y":-0.007},
{"t":"sp","g":"Chrysophytes","n":"","x":0.470,"y":-0.288},
{"t":"sp","g":"Chrysophytes","n":"","x":0.092,"y":-0.349},
{"t":"sp","g":"Cyanobacteria","n":"","x":0.064,"y":-0.671},
{"t":"sp","g":"Cryptophytes","n":"","x":-0.443,"y":-0.294},
{"t":"sp","g":"Chlorophytes","n":"","x":-0.268,"y":-0.196},
{"t":"sp","g":"Chlorophytes","n":"","x":-0.333,"y":-0.327},
{"t":"sp","g":"Dinoflagellates","n":"","x":-0.310,"y":-0.388},
{"t":"sp","g":"Chlorophytes","n":"","x":-0.213,"y":-0.425},
{"t":"sp","g":"Diatoms","n":"Cyclotella sp.3","x":-0.351,"y":-0.610,"lx":-0.392,"ly":-0.649},
{"t":"sp","g":"Diatoms","n":"Cyclotella sp.1","x":-0.287,"y":-0.751,"lx":-0.216,"ly":-0.810},
{"t":"env","g":"env","n":"NH","x":0.543,"y":0.195,"lx":0.618,"ly":0.217},
{"t":"env","g":"env","n":"U","x":-0.148,"y":0.021,"lx":-0.204,"ly":0.032},
{"t":"env","g":"env","n":"NO","x":-0.185,"y":-0.033,"lx":-0.273,"ly":-0.055},
{"t":"env","g":"env","n":"C","x":-0.102,"y":-0.196,"lx":-0.148,"ly":-0.294}
],
"F": [
{"t":"sp","g":"Diatoms","n":"Cyclotella sp.2","x":0.066,"y":0.807,"lx":0.246,"ly":0.823},
{"t":"sp","g":"Diatoms","n":"Cyclotella sp.1","x":0.792,"y":0.530,"lx":0.753,"ly":0.566},
{"t":"sp","g":"Dinoflagellates","n":"","x":0.285,"y":0.310},
{"t":"sp","g":"Dinoflagellates","n":"","x":0.586,"y":0.191},
{"t":"sp","g":"Cyanobacteria","n":"","x":-0.958,"y":0.207},
{"t":"sp","g":"Cyanobacteria","n":"","x":0.182,"y":0.156},
{"t":"sp","g":"Chrysophytes","n":"Mallomonas urnaformis","x":-0.224,"y":0.079,"lx":-0.572,"ly":0.117},
{"t":"sp","g":"Chrysophytes","n":"Mallomonas caudata","x":-0.489,"y":-0.050,"lx":-0.823,"ly":-0.066},
{"t":"sp","g":"Cryptophytes","n":"","x":0.231,"y":-0.017},
{"t":"sp","g":"Cyanobacteria","n":"","x":0.205,"y":-0.101},
{"t":"sp","g":"Cyanobacteria","n":"","x":-0.057,"y":-0.109},
{"t":"sp","g":"Chlorophytes","n":"","x":-0.327,"y":-0.148},
{"t":"sp","g":"Chlorophytes","n":"","x":-0.353,"y":-0.201},
{"t":"env","g":"env","n":"NO","x":0.110,"y":0.222,"lx":0.136,"ly":0.276},
{"t":"env","g":"env","n":"U","x":-0.057,"y":0.053,"lx":-0.103,"ly":0.076},
{"t":"env","g":"env","n":"C","x":0.046,"y":-0.063,"lx":0.084,"ly":-0.101},
{"t":"env","g":"env","n":"NH","x":-0.134,"y":-0.155,"lx":-0.186,"ly":-0.225}
]
}
}
